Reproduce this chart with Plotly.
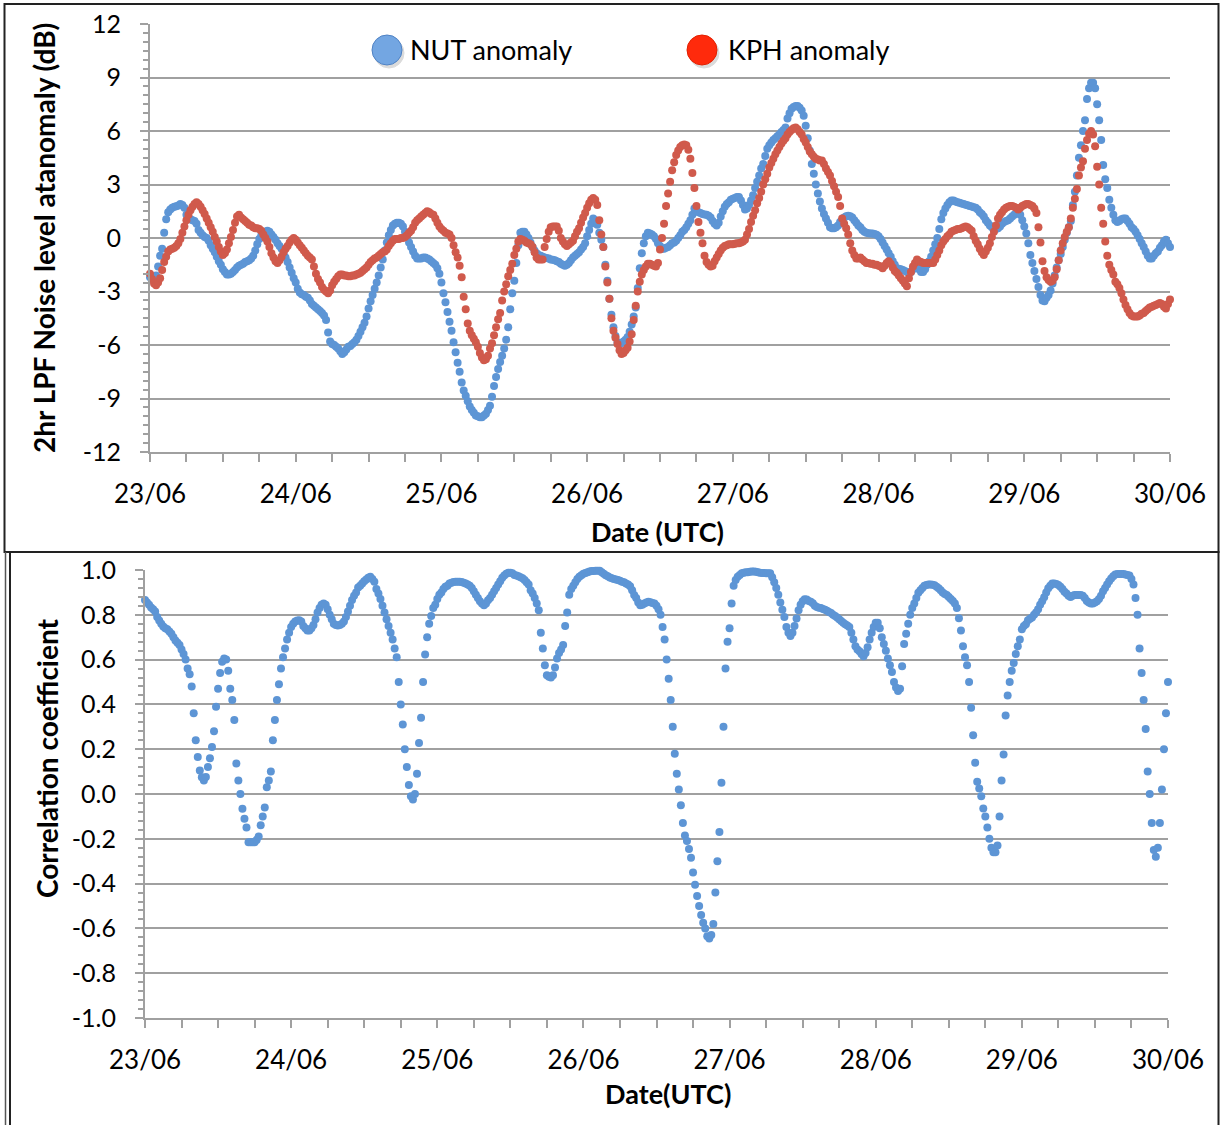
import pandas as pd
import plotly.graph_objects as go

# ---------------- data (20-minute samples from 23/06 00:00 to 30/06 00:00) ----------------
nut_anomaly = [
    -2.2, -2.3, -2.3, -2.1, -1.6, -1.0, -0.6, 0.3, 1.05, 1.45, 1.6, 1.7, 1.75, 1.78, 1.82, 1.9, 1.85, 1.7,
    1.3, 1.15, 1.05, 1.0, 0.95, 0.8, 0.45, 0.3, 0.15, 0.05, 0.0, -0.15, -0.4, -0.6, -0.8, -1.05, -1.3, -1.5,
    -1.75, -1.9, -2.05, -2.05, -2.0, -1.9, -1.8, -1.65, -1.55, -1.5, -1.45, -1.35, -1.3, -1.25, -1.15, -1.0, -0.7, -0.35,
    -0.05, 0.15, 0.3, 0.35, 0.4, 0.35, 0.2, 0.05, -0.1, -0.3, -0.45, -0.6, -0.85, -1.1, -1.35, -1.65, -1.95, -2.25,
    -2.5, -2.85, -3.05, -3.15, -3.2, -3.3, -3.35, -3.5, -3.7, -3.8, -3.9, -4.0, -4.1, -4.2, -4.35, -4.6, -5.3, -5.8,
    -5.95, -6.0, -6.1, -6.2, -6.35, -6.5, -6.4, -6.25, -6.1, -6.05, -5.95, -5.85, -5.7, -5.5, -5.25, -5.0, -4.75, -4.4,
    -3.95, -3.55, -3.2, -2.85, -2.5, -2.1, -1.65, -1.2, -0.7, -0.25, 0.15, 0.45, 0.7, 0.8, 0.85, 0.85, 0.8, 0.65,
    0.35, 0.05, -0.25, -0.5, -0.75, -1.0, -1.15, -1.15, -1.15, -1.1, -1.1, -1.15, -1.2, -1.3, -1.4, -1.5, -1.7, -2.0,
    -2.5, -3.1, -3.6, -4.15, -4.7, -5.2, -5.85, -6.4, -7.0, -7.5, -8.1, -8.55, -8.85, -9.15, -9.45, -9.65, -9.8, -9.95,
    -10.0, -10.05, -10.05, -9.95, -9.85, -9.65, -9.4, -8.9, -8.3, -7.8, -7.35, -6.95, -6.6, -6.2, -5.7, -5.0, -4.0, -3.1,
    -2.4, -1.4, -0.4, 0.3, 0.35, 0.35, 0.2, 0.0, -0.25, -0.5, -0.7, -0.85, -0.95, -1.0, -1.05, -1.1, -1.12, -1.15,
    -1.2, -1.22, -1.25, -1.3, -1.35, -1.45, -1.5, -1.55, -1.5, -1.4, -1.25, -1.1, -1.0, -0.9, -0.8, -0.65, -0.5, -0.3,
    0.1, 0.45, 0.8, 1.1, 1.0, 0.75, 0.3, -0.1, -0.5, -1.5, -2.4, -3.4, -4.3, -5.0, -5.5, -5.85, -5.9, -5.9,
    -5.8, -5.7, -5.55, -5.25, -4.85, -4.4, -3.9, -2.8, -1.7, -0.85, -0.3, 0.1, 0.3, 0.25, 0.2, 0.1, -0.05, -0.3,
    -0.45, -0.6, -0.6, -0.55, -0.5, -0.4, -0.3, -0.25, -0.15, 0.0, 0.15, 0.35, 0.45, 0.6, 0.8, 1.0, 1.3, 1.65,
    1.55, 1.45, 1.4, 1.35, 1.32, 1.3, 1.25, 1.15, 0.95, 0.8, 0.7, 0.85, 1.2, 1.5, 1.75, 1.9, 2.0, 2.15,
    2.2, 2.25, 2.3, 2.3, 2.1, 1.85, 1.6, 1.65, 1.85, 2.1, 2.4, 2.8, 3.15, 3.5, 3.9, 4.15, 4.6, 5.0,
    5.2, 5.35, 5.5, 5.6, 5.7, 5.8, 5.95, 6.05, 6.2, 6.7, 7.0, 7.25, 7.35, 7.4, 7.4, 7.3, 7.15, 6.85,
    6.3, 5.6, 4.9, 4.15, 3.6, 3.0, 2.5, 2.05, 1.65, 1.35, 1.1, 0.85, 0.6, 0.55, 0.55, 0.6, 0.7, 0.9,
    1.0, 1.15, 1.22, 1.25, 1.22, 1.15, 1.0, 0.85, 0.7, 0.6, 0.45, 0.35, 0.3, 0.27, 0.25, 0.25, 0.22, 0.18,
    0.1, -0.05, -0.25, -0.45, -0.65, -0.85, -1.05, -1.3, -1.5, -1.7, -1.72, -1.75, -1.8, -1.85, -1.9, -1.95, -1.9, -1.75,
    -1.65, -1.65, -1.75, -1.9, -1.9, -1.75, -1.5, -1.3, -1.05, -0.7, -0.35, 0.0, 0.5, 1.05, 1.4, 1.65, 1.85, 2.0,
    2.1, 2.1, 2.05, 2.0, 1.97, 1.93, 1.9, 1.87, 1.83, 1.8, 1.77, 1.73, 1.7, 1.6, 1.45, 1.35, 1.2, 1.0,
    0.85, 0.7, 0.6, 0.55, 0.5, 0.55, 0.65, 0.8, 0.9, 0.95, 1.0, 1.1, 1.2, 1.3, 1.4, 1.5, 1.3, 1.0,
    0.65, 0.25, -0.3, -0.95, -1.4, -1.85, -2.3, -2.75, -3.2, -3.5, -3.55, -3.35, -3.2, -2.95, -2.55, -2.1, -1.65, -1.25,
    -0.9, -0.5, -0.1, 0.3, 0.6, 0.95, 1.85, 2.6, 3.5, 4.5, 5.2, 6.0, 6.6, 7.8, 8.4, 8.7, 8.7, 8.4,
    7.5, 6.6, 5.5, 4.1, 3.3, 2.8, 2.15, 1.7, 1.3, 1.0, 0.9, 0.95, 1.05, 1.1, 1.1, 0.95, 0.8, 0.6,
    0.5, 0.35, 0.15, -0.05, -0.3, -0.5, -0.75, -1.0, -1.15, -1.15, -1.0, -0.85, -0.75, -0.55, -0.4, -0.2, -0.1, -0.3,
    -0.5,
]

kph_anomaly = [
    -2.0, -2.3, -2.55, -2.65, -2.5, -2.25, -1.8, -1.35, -1.05, -0.75, -0.65, -0.6, -0.55, -0.45, -0.3, -0.05, 0.3, 0.65,
    1.0, 1.3, 1.55, 1.75, 1.9, 2.0, 1.9, 1.75, 1.55, 1.35, 1.1, 0.85, 0.6, 0.35, 0.05, -0.2, -0.5, -0.75,
    -0.95, -0.85, -0.65, -0.3, 0.05, 0.45, 0.85, 1.2, 1.3, 1.15, 1.05, 0.95, 0.85, 0.75, 0.7, 0.6, 0.55, 0.55,
    0.5, 0.4, 0.2, 0.0, -0.2, -0.5, -0.85, -1.1, -1.3, -1.4, -1.25, -1.05, -0.8, -0.6, -0.45, -0.25, -0.1, 0.0,
    -0.1, -0.25, -0.4, -0.55, -0.7, -0.85, -1.0, -1.1, -1.2, -1.6, -2.0, -2.3, -2.5, -2.75, -2.9, -3.0, -3.1, -2.95,
    -2.65, -2.45, -2.3, -2.15, -2.05, -2.05, -2.1, -2.1, -2.15, -2.15, -2.1, -2.1, -2.05, -2.0, -1.95, -1.85, -1.75, -1.65,
    -1.5, -1.35, -1.25, -1.15, -1.1, -1.0, -0.9, -0.8, -0.75, -0.65, -0.45, -0.3, -0.15, -0.05, -0.05, -0.05, 0.0, 0.0,
    0.05, 0.15, 0.3, 0.4, 0.6, 0.85, 1.0, 1.1, 1.2, 1.3, 1.4, 1.5, 1.45, 1.35, 1.3, 1.1, 0.85, 0.65,
    0.5, 0.4, 0.3, 0.25, 0.2, 0.0, -0.4, -0.8, -1.1, -1.55, -2.2, -3.3, -4.0, -4.8, -5.2, -5.45, -5.65, -5.85,
    -6.1, -6.45, -6.7, -6.85, -6.8, -6.6, -6.2, -5.9, -5.45, -5.0, -4.55, -4.2, -3.5, -3.0, -2.6, -2.15, -1.8, -1.45,
    -0.95, -0.6, -0.2, -0.05, -0.1, -0.15, -0.25, -0.3, -0.35, -0.5, -0.8, -1.1, -1.2, -1.2, -1.2, -0.5, -0.05, 0.35,
    0.6, 0.65, 0.65, 0.65, 0.4, 0.0, -0.2, -0.35, -0.45, -0.35, -0.25, -0.15, 0.1, 0.35, 0.55, 0.85, 1.15, 1.4,
    1.7, 1.95, 2.15, 2.25, 2.15, 1.85, 1.0, 0.2, -0.5, -1.6, -2.5, -3.4, -4.5, -5.2, -5.6, -5.95, -6.3, -6.5,
    -6.45, -6.3, -6.15, -5.8, -5.4, -4.6, -3.8, -3.0, -2.45, -2.05, -1.8, -1.6, -1.45, -1.45, -1.5, -1.55, -1.6, -1.4,
    -0.65, 0.0, 0.8, 1.8, 2.5, 3.15, 3.8, 4.25, 4.65, 4.9, 5.1, 5.2, 5.25, 5.2, 4.95, 4.45, 3.65, 2.8,
    1.8, 0.9, 0.3, -0.3, -1.0, -1.35, -1.5, -1.6, -1.55, -1.3, -1.1, -0.9, -0.7, -0.55, -0.45, -0.4, -0.35, -0.35,
    -0.35, -0.32, -0.3, -0.3, -0.25, -0.2, -0.1, 0.2, 0.5, 0.9, 1.25, 1.55, 1.95, 2.25, 2.6, 3.0, 3.3, 3.6,
    3.95, 4.2, 4.45, 4.7, 4.9, 5.1, 5.3, 5.45, 5.6, 5.8, 5.95, 6.05, 6.15, 6.2, 6.1, 5.95, 5.8, 5.55,
    5.35, 5.1, 4.85, 4.7, 4.55, 4.45, 4.4, 4.35, 4.35, 4.15, 3.9, 3.7, 3.5, 3.2, 2.9, 2.6, 2.3, 1.8,
    1.1, 0.8, 0.55, 0.2, -0.3, -0.7, -0.95, -1.15, -1.15, -1.1, -1.2, -1.3, -1.4, -1.4, -1.45, -1.45, -1.5, -1.5,
    -1.55, -1.6, -1.7, -1.55, -1.4, -1.3, -1.45, -1.65, -1.85, -1.95, -2.1, -2.25, -2.4, -2.55, -2.7, -2.25, -1.9, -1.6,
    -1.4, -1.2, -1.3, -1.35, -1.4, -1.4, -1.4, -1.4, -1.4, -1.4, -1.2, -0.95, -0.7, -0.4, -0.2, -0.05, 0.1, 0.2,
    0.35, 0.4, 0.45, 0.5, 0.5, 0.55, 0.6, 0.65, 0.6, 0.5, 0.4, 0.1, -0.15, -0.35, -0.6, -0.8, -0.95, -0.75,
    -0.55, -0.3, 0.05, 0.35, 0.7, 1.1, 1.3, 1.45, 1.6, 1.7, 1.75, 1.8, 1.8, 1.75, 1.7, 1.6, 1.7, 1.8,
    1.85, 1.9, 1.9, 1.85, 1.8, 1.65, 1.4, 0.6, -0.25, -1.3, -1.85, -2.2, -2.35, -2.45, -2.4, -2.2, -1.75, -1.25,
    -0.7, -0.3, 0.05, 0.35, 0.6, 1.1, 1.7, 2.2, 2.75, 3.5, 3.95, 4.3, 5.0, 5.5, 5.85, 6.0, 5.8, 5.15,
    4.0, 3.0, 1.7, 0.8, -0.2, -1.0, -1.5, -1.8, -2.05, -2.45, -2.6, -2.8, -3.1, -3.45, -3.75, -4.0, -4.2, -4.35,
    -4.4, -4.4, -4.4, -4.35, -4.25, -4.2, -4.1, -4.0, -3.9, -3.85, -3.8, -3.75, -3.7, -3.65, -3.7, -3.85, -3.95, -3.7,
    -3.45,
]

correlation = [
    0.866, 0.855, 0.845, 0.833, 0.825, 0.815, 0.79, 0.775, 0.76, 0.748, 0.74, 0.735, 0.725, 0.715, 0.70, 0.685, 0.675, 0.665,
    0.645, 0.625, 0.60, 0.56, 0.535, 0.48, 0.36, 0.24, 0.165, 0.105, 0.075, 0.06, 0.076, 0.12, 0.16, 0.21, 0.28, 0.39,
    0.47, 0.54, 0.59, 0.605, 0.60, 0.55, 0.47, 0.42, 0.33, 0.136, 0.06, 0.0, -0.066, -0.11, -0.15, -0.215, -0.215, -0.215,
    -0.215, -0.205, -0.19, -0.14, -0.10, -0.06, 0.03, 0.06, 0.10, 0.24, 0.33, 0.42, 0.49, 0.56, 0.61, 0.65, 0.69, 0.72,
    0.745, 0.76, 0.77, 0.775, 0.776, 0.77, 0.75, 0.74, 0.73, 0.73, 0.74, 0.755, 0.78, 0.81, 0.83, 0.845, 0.85, 0.845,
    0.825, 0.80, 0.78, 0.76, 0.754, 0.752, 0.754, 0.76, 0.77, 0.79, 0.815, 0.84, 0.866, 0.885, 0.90, 0.922, 0.93, 0.94,
    0.95, 0.958, 0.965, 0.97, 0.96, 0.948, 0.915, 0.895, 0.87, 0.84, 0.81, 0.78, 0.75, 0.72, 0.69, 0.65, 0.61, 0.50,
    0.40, 0.31, 0.20, 0.12, 0.04, -0.01, -0.025, 0.0, 0.09, 0.228, 0.34, 0.50, 0.623, 0.70, 0.76, 0.795, 0.83, 0.845,
    0.87, 0.89, 0.90, 0.915, 0.925, 0.93, 0.94, 0.943, 0.946, 0.948, 0.948, 0.948, 0.946, 0.943, 0.94, 0.935, 0.93, 0.92,
    0.905, 0.89, 0.875, 0.86, 0.85, 0.843, 0.85, 0.865, 0.875, 0.89, 0.905, 0.92, 0.935, 0.95, 0.965, 0.975, 0.983, 0.988,
    0.988, 0.985, 0.978, 0.975, 0.972, 0.968, 0.963, 0.955, 0.945, 0.935, 0.91, 0.895, 0.875, 0.85, 0.82, 0.72, 0.65, 0.575,
    0.53, 0.523, 0.52, 0.53, 0.565, 0.605, 0.63, 0.645, 0.665, 0.75, 0.81, 0.89, 0.915, 0.93, 0.945, 0.96, 0.97, 0.977,
    0.983, 0.987, 0.99, 0.993, 0.995, 0.996, 0.997, 0.997, 0.997, 0.99, 0.983, 0.977, 0.972, 0.967, 0.963, 0.96, 0.958, 0.955,
    0.952, 0.948, 0.945, 0.94, 0.935, 0.928, 0.91, 0.888, 0.875, 0.855, 0.843, 0.845, 0.85, 0.855, 0.858, 0.856, 0.853, 0.85,
    0.84, 0.825, 0.80, 0.745, 0.69, 0.60, 0.515, 0.42, 0.30, 0.18, 0.09, 0.02, -0.05, -0.13, -0.185, -0.21, -0.245, -0.285,
    -0.35, -0.405, -0.455, -0.50, -0.54, -0.575, -0.60, -0.635, -0.645, -0.63, -0.58, -0.44, -0.30, -0.17, 0.05, 0.30, 0.56, 0.68,
    0.74, 0.85, 0.93, 0.955, 0.97, 0.978, 0.985, 0.988, 0.99, 0.99, 0.992, 0.993, 0.993, 0.992, 0.99, 0.988, 0.987, 0.987,
    0.986, 0.985, 0.985, 0.968, 0.945, 0.92, 0.89, 0.855, 0.823, 0.79, 0.745, 0.72, 0.705, 0.72, 0.75, 0.784, 0.82, 0.845,
    0.86, 0.869, 0.868, 0.862, 0.858, 0.852, 0.84, 0.835, 0.832, 0.83, 0.826, 0.822, 0.818, 0.812, 0.808, 0.80, 0.795, 0.788,
    0.78, 0.772, 0.765, 0.758, 0.752, 0.745, 0.72, 0.69, 0.66, 0.645, 0.637, 0.625, 0.615, 0.63, 0.655, 0.69, 0.72, 0.745,
    0.765, 0.765, 0.74, 0.70, 0.67, 0.64, 0.605, 0.575, 0.545, 0.50, 0.475, 0.46, 0.47, 0.57, 0.67, 0.715, 0.76, 0.80,
    0.83, 0.85, 0.875, 0.898, 0.91, 0.92, 0.93, 0.933, 0.935, 0.935, 0.934, 0.932, 0.925, 0.918, 0.91, 0.90, 0.893, 0.888,
    0.88, 0.87, 0.862, 0.85, 0.83, 0.785, 0.73, 0.66, 0.61, 0.575, 0.50, 0.385, 0.262, 0.14, 0.055, 0.025, -0.01, -0.065,
    -0.10, -0.15, -0.20, -0.24, -0.26, -0.26, -0.23, -0.10, 0.06, 0.176, 0.35, 0.44, 0.50, 0.55, 0.585, 0.625, 0.66, 0.69,
    0.735, 0.75, 0.758, 0.776, 0.782, 0.788, 0.80, 0.81, 0.825, 0.845, 0.86, 0.878, 0.90, 0.918, 0.93, 0.94, 0.94, 0.937,
    0.933, 0.925, 0.915, 0.903, 0.895, 0.885, 0.88, 0.885, 0.888, 0.888, 0.888, 0.888, 0.885, 0.875, 0.862, 0.855, 0.85, 0.85,
    0.855, 0.86, 0.87, 0.885, 0.905, 0.92, 0.935, 0.95, 0.962, 0.972, 0.98, 0.982, 0.982, 0.982, 0.982, 0.98, 0.978, 0.976,
    0.96, 0.935, 0.875, 0.80, 0.65, 0.54, 0.42, 0.29, 0.10, 0.0, -0.13, -0.25, -0.28, -0.24, -0.13, 0.02, 0.2, 0.36,
    0.5,
]

start = "2013-06-23 00:00"
times = pd.date_range(start, periods=len(nut_anomaly), freq="20min")
corr_times = pd.date_range(start, periods=len(correlation), freq="20min")

day_ticks = list(pd.date_range("2013-06-23", "2013-06-30", freq="D"))
day_labels = ["23/06", "24/06", "25/06", "26/06", "27/06", "28/06", "29/06", "30/06"]
anom_ticks = [-12, -9, -6, -3, 0, 3, 6, 9, 12]
anom_labels = ["-12", "-9", "-6", "-3", "0", "3", "6", "9", "12"]
corr_ticks = [-1.0, -0.8, -0.6, -0.4, -0.2, 0.0, 0.2, 0.4, 0.6, 0.8, 1.0]
corr_labels = ["-1.0", "-0.8", "-0.6", "-0.4", "-0.2", "0.0", "0.2", "0.4", "0.6", "0.8", "1.0"]
series_names = ["NUT anomaly", "KPH anomaly"]

# ---------------- style ----------------
W, H = 1221, 1125
FONT = "Lato"
BLUE = "#5d95d5"
RED = "#d05a4c"
GRAY = "#a0a0a0"
MSIZE = 8


def fx(p):
    return p / W


def fy(p):
    return 1 - p / H


fig = go.Figure()
fig.add_trace(go.Scatter(x=times, y=nut_anomaly, mode="markers", name=series_names[0],
                         marker=dict(size=MSIZE, color=BLUE), cliponaxis=False,
                         xaxis="x", yaxis="y", showlegend=False))
fig.add_trace(go.Scatter(x=times, y=kph_anomaly, mode="markers", name=series_names[1],
                         marker=dict(size=MSIZE, color=RED), cliponaxis=False,
                         xaxis="x", yaxis="y", showlegend=False))
fig.add_trace(go.Scatter(x=corr_times, y=correlation, mode="markers", name="Correlation",
                         marker=dict(size=MSIZE, color=BLUE), cliponaxis=False,
                         xaxis="x2", yaxis="y2", showlegend=False))

six_hours = 6 * 3600 * 1000


def xaxis_style(domain, anchor):
    return dict(
        domain=domain, anchor=anchor, type="date", automargin=False,
        range=[day_ticks[0], day_ticks[-1]],
        tickmode="array", tickvals=day_ticks, ticktext=day_labels,
        ticks="outside", ticklen=8, tickwidth=1.5, tickcolor=GRAY,
        showline=True, linecolor=GRAY, linewidth=2,
        showgrid=False, zeroline=False,
        tickfont=dict(family=FONT, size=26, color="black"),
        ticklabelstandoff=10,
        minor=dict(tickmode="linear", tick0=day_ticks[0], dtick=six_hours,
                   ticks="outside", ticklen=8, tickwidth=1.5, tickcolor=GRAY, showgrid=False),
    )


def yaxis_style(domain, anchor, rng, vals, labels, minor_dtick):
    return dict(
        domain=domain, anchor=anchor, range=rng, automargin=False,
        tickmode="array", tickvals=vals, ticktext=labels,
        ticks="outside", ticklen=8, tickwidth=1.5, tickcolor=GRAY,
        showline=True, linecolor=GRAY, linewidth=2,
        showgrid=True, gridcolor=GRAY, gridwidth=2, zeroline=False,
        tickfont=dict(family=FONT, size=25, color="black"),
        ticklabelstandoff=14,
        minor=dict(tickmode="linear", tick0=0, dtick=minor_dtick,
                   ticks="outside", ticklen=5, tickwidth=1.5, tickcolor=GRAY, showgrid=False),
    )


fig.update_layout(
    width=W, height=H, autosize=False,
    margin=dict(l=0, r=0, t=0, b=0, pad=0, autoexpand=False),
    paper_bgcolor="white", plot_bgcolor="white",
    font=dict(family=FONT, color="black"),
    showlegend=False,
    xaxis=xaxis_style([fx(150), fx(1170)], "y"),
    yaxis=yaxis_style([fy(452), fy(24)], "x", [-12, 12], anom_ticks, anom_labels, 0.5),
    xaxis2=xaxis_style([fx(145), fx(1168)], "y2"),
    yaxis2=yaxis_style([fy(1018), fy(570)], "x2", [-1, 1], corr_ticks, corr_labels, 0.04),
)

ytitle_font = dict(family=FONT, size=28, color="black", weight="bold")
xtitle_font = dict(family=FONT, size=27, color="black", weight="bold")
annotations = [
    dict(text="2hr LPF Noise level atanomaly (dB)", x=fx(44), y=fy(238), textangle=-90,
         font=ytitle_font),
    dict(text="Date (UTC)", x=fx(657), y=fy(531), font=xtitle_font),
    dict(text="Correlation coefficient", x=fx(47), y=fy(758), textangle=-90, font=ytitle_font),
    dict(text="Date(UTC)", x=fx(668), y=fy(1093), font=xtitle_font),
    dict(text=series_names[0], x=fx(408), y=fy(50), xanchor="left",
         font=dict(family=FONT, size=27, color="black")),
    dict(text=series_names[1], x=fx(726), y=fy(50), xanchor="left",
         font=dict(family=FONT, size=27, color="black")),
]
for a in annotations:
    a.setdefault("xanchor", "center")
    a.update(xref="paper", yref="paper", yanchor="middle", showarrow=False)
fig.update_layout(annotations=annotations)


def circle(cx, cy, r, fill, line, opacity=1.0):
    return dict(type="circle", xref="paper", yref="paper",
                x0=fx(cx - r), x1=fx(cx + r), y0=fy(cy + r), y1=fy(cy - r),
                fillcolor=fill, line=dict(color=line, width=1), opacity=opacity, layer="above")


shapes = [
    # legend symbols (with soft shadow)
    circle(389, 53, 15, "#9a9a9a", "#9a9a9a", 0.35),
    circle(387, 50, 15, "#73a6e2", "#4f82c4"),
    circle(704, 53, 15, "#9a9a9a", "#9a9a9a", 0.35),
    circle(702, 50, 15, "#ff2a0c", "#e22000"),
    # panel frames
    dict(type="rect", xref="paper", yref="paper", x0=fx(4.5), x1=fx(1218.5), y0=fy(552), y1=fy(4),
         line=dict(color="#222222", width=2), layer="above"),
    dict(type="rect", xref="paper", yref="paper", x0=fx(10), x1=fx(1218.5), y0=fy(1130), y1=fy(552),
         line=dict(color="#222222", width=2), layer="above"),
    dict(type="line", xref="paper", yref="paper", x0=fx(5.5), x1=fx(5.5), y0=fy(1130), y1=fy(552),
         line=dict(color="#555555", width=1.5), layer="above"),
]
fig.update_layout(shapes=shapes)

fig.write_html("out.html")
